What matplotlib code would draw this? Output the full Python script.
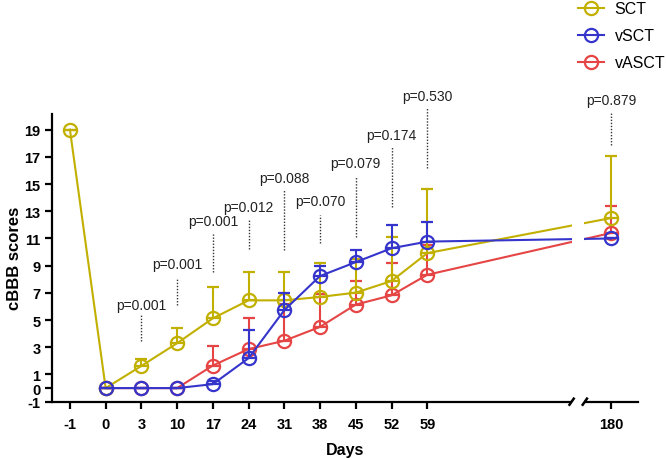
import matplotlib
matplotlib.use("Agg")
import matplotlib.pyplot as plt
from matplotlib.lines import Line2D
import numpy as np

plt.rcParams['font.family'] = ['Liberation Sans', 'DejaVu Sans']

# ---- data ----
days = ['-1', '0', '3', '10', '17', '24', '31', '38', '45', '52', '59', '180']
sct_mean = [19, 0, 1.63, 3.30, 5.13, 6.45, 6.45, 6.70, 7.02, 7.87, 9.92, 12.5]
sct_upper = [19, 0, 2.15, 4.44, 7.40, 8.57, 8.57, 9.20, 9.50, 11.09, 14.60, 17.03]
vsct_mean = [np.nan, 0, 0, 0, 0.29, 2.20, 5.73, 8.24, 9.26, 10.28, 10.77, 11.0]
vsct_upper = [np.nan, 0, 0, 0, 0.49, 4.27, 7.00, 9.00, 10.16, 11.99, 12.23, 11.0]
vasct_mean = [np.nan, 0, 0, 0, 1.66, 2.87, 3.48, 4.50, 6.14, 6.82, 8.33, 11.4]
vasct_upper = [np.nan, 0, 0, 0, 3.13, 5.18, 6.20, 6.90, 7.87, 9.21, 10.50, 13.38]
p_days = ['3', '10', '17', '24', '31', '38', '45', '52', '59', '180']
p_values = ['p=0.001', 'p=0.001', 'p=0.001', 'p=0.012', 'p=0.088',
            'p=0.070', 'p=0.079', 'p=0.174', 'p=0.530', 'p=0.879']
yticks = [-1, 0, 1, 3, 5, 7, 9, 11, 13, 15, 17, 19]

# ---- layout ----
xpos = list(range(11)) + [15.14]
pos_of = dict(zip(days, xpos))
p_line_bot = [3.44, 6.09, 8.57, 10.23, 10.16, 10.67, 11.11, 13.33, 16.15, 17.9]
p_line_top = [5.48, 8.11, 11.33, 12.35, 14.57, 12.72, 15.57, 17.76, 20.61, 20.32]
p_text_y = [6.09, 9.09, 12.3, 13.3, 15.42, 13.76, 16.52, 18.64, 21.44, 21.2]

c_sct = '#C2B000'
c_vsct = '#3535CC'
c_vasct = '#E64545'

fig = plt.figure(figsize=(6.66, 4.6), dpi=100)
ax = fig.add_axes([51.7/666, 1-402.7/460, (637.7-51.7)/666, (402.7-115)/460])

def series(mean, upper, color, z):
    m = np.array(mean, dtype=float)
    u = np.array(upper, dtype=float)
    err = np.vstack([np.zeros_like(m), u - m])
    ax.errorbar(xpos, m, yerr=err, color=color, lw=1.5, marker='o', ms=9.5,
                mfc='none', mec=color, mew=1.6, capsize=4.3, capthick=1.5,
                elinewidth=1.5, zorder=z, clip_on=False)

series(vasct_mean, vasct_upper, c_vasct, 3)
series(sct_mean, sct_upper, c_sct, 3.1)
series(vsct_mean, vsct_upper, c_vsct, 3.2)

# axis break gap
ax.axvspan(14.06, 14.39, ymin=-0.03, ymax=1.0, color='white', zorder=6, clip_on=False, lw=0)
for xb in (14.04, 14.41):
    ax.plot([xb - 0.08, xb + 0.08], [-1.3, -0.7], color='black', lw=1.8,
            zorder=7, clip_on=False, solid_capstyle='butt')

# p-value annotations
for d, p, b, t, ty in zip(p_days, p_values, p_line_bot, p_line_top, p_text_y):
    x = pos_of[d]
    ax.plot([x, x], [b, t], ls=(0, (1, 1.2)), color='#333333', lw=1.0, clip_on=False, zorder=2)
    ax.text(x, ty, p, ha='center', va='center', fontsize=10, color='#222222', clip_on=False)

ax.set_xlim(-0.51, 15.89)
ax.set_ylim(-1, 20.15)
ax.set_xticks(xpos)
ax.set_xticklabels(days, fontweight='bold', fontsize=10.5)
ax.set_yticks(yticks)
ax.set_yticklabels([str(v) for v in yticks], fontweight='bold', fontsize=10.5)
for s in ('top', 'right'):
    ax.spines[s].set_visible(False)
for s in ('left', 'bottom'):
    ax.spines[s].set_linewidth(1.6)
ax.tick_params(axis='both', length=5, width=1.6, direction='out', pad=3)
ax.tick_params(axis='x', pad=6)
ax.set_xlabel('Days', fontweight='bold', fontsize=11.5, labelpad=8)
ax.set_ylabel('cBBB scores', fontweight='bold', fontsize=12, labelpad=2)

handles = [Line2D([0], [0], color=c, lw=1.5, marker='o', ms=9.5, mfc='none', mec=c, mew=1.6)
           for c in (c_sct, c_vsct, c_vasct)]
fig.legend(handles, ['SCT', 'vSCT', 'vASCT'], loc='upper left',
           bbox_to_anchor=(578/666, 0.995), frameon=False, fontsize=11.5,
           handlelength=1.6, handletextpad=0.7, labelspacing=0.75, borderpad=0,
           borderaxespad=0)

fig.savefig('out.png', dpi=100)
